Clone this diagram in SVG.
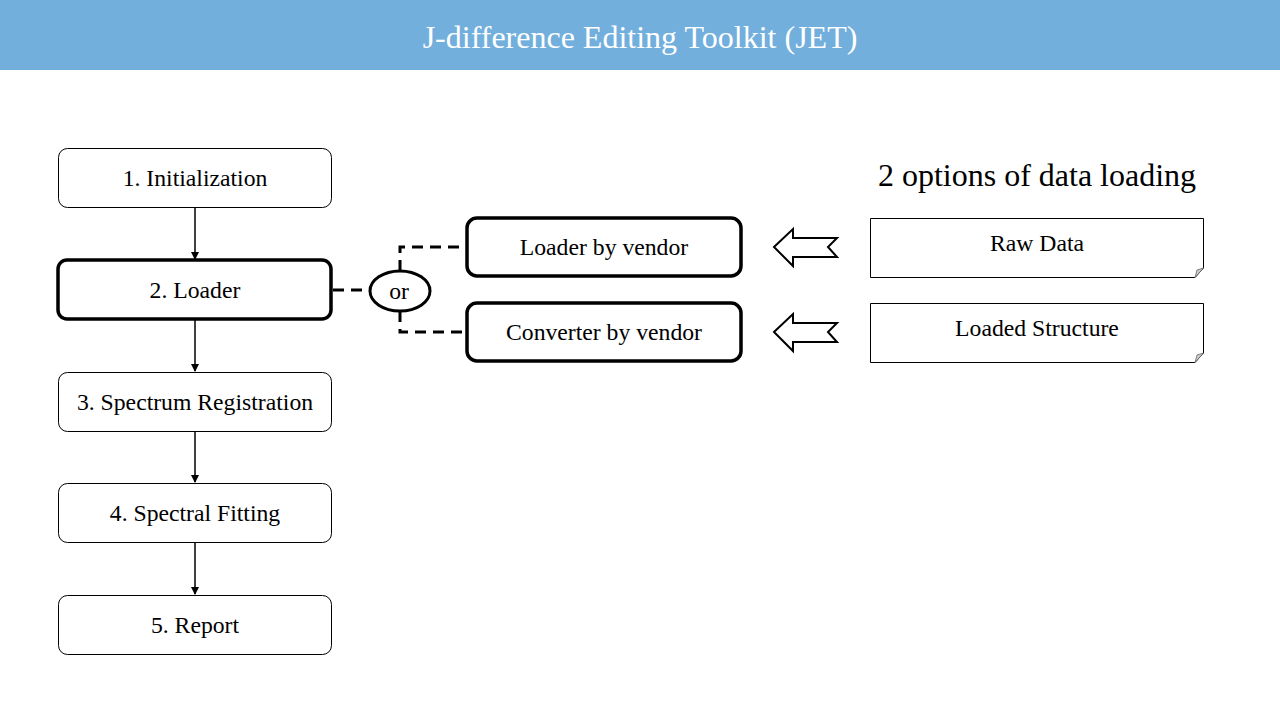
<svg xmlns="http://www.w3.org/2000/svg" width="1280" height="720" viewBox="0 0 1280 720">
<defs>
<style>
text{font-family:"Liberation Serif","Times New Roman",serif;fill:#000;text-anchor:middle;dominant-baseline:central}
.box{fill:#fff;stroke:#000;stroke-width:1}
.bold{fill:#fff;stroke:#000;stroke-width:3.5}
.lbl{font-size:23.7px}
.dash{fill:none;stroke:#000;stroke-width:3;stroke-dasharray:11 7}
.blk{fill:#fff;stroke:#000;stroke-width:2}
</style>
<marker id="ah" markerWidth="8" markerHeight="8" refX="7" refY="4" orient="auto" markerUnits="userSpaceOnUse">
<path d="M0,0 L8,4 L0,8 z" fill="#000"/>
</marker>
</defs>
<rect x="0" y="0" width="1280" height="70" fill="#72AFDD"/>
<text x="640" y="37" style="font-size:32px;fill:#fff">J-difference Editing Toolkit (JET)</text>

<g id="connectors">
<line x1="195" y1="208" x2="195" y2="259" stroke="#000" stroke-width="1.5" marker-end="url(#ah)"/>
<line x1="195" y1="320" x2="195" y2="371" stroke="#000" stroke-width="1.5" marker-end="url(#ah)"/>
<line x1="195" y1="432" x2="195" y2="482" stroke="#000" stroke-width="1.5" marker-end="url(#ah)"/>
<line x1="195" y1="543" x2="195" y2="594" stroke="#000" stroke-width="1.5" marker-end="url(#ah)"/>
<path class="dash" d="M333,290 H370"/>
<path class="dash" d="M400,271 V247 H467"/>
<path class="dash" d="M400,311 V332 H467"/>
</g>

<g id="n1"><rect class="box" x="58.5" y="148.5" width="273" height="59" rx="9"/><text class="lbl" x="195" y="178">1. Initialization</text></g>
<g id="n2"><rect class="bold" x="58" y="260" width="273" height="59" rx="9"/><text class="lbl" x="195" y="290">2. Loader</text></g>
<g id="n3"><rect class="box" x="58.5" y="372.5" width="273" height="59" rx="9"/><text class="lbl" x="195" y="402">3. Spectrum Registration</text></g>
<g id="n4"><rect class="box" x="58.5" y="483.5" width="273" height="59" rx="9"/><text class="lbl" x="195" y="513">4. Spectral Fitting</text></g>
<g id="n5"><rect class="box" x="58.5" y="595.5" width="273" height="59" rx="9"/><text class="lbl" x="195" y="625">5. Report</text></g>

<g id="or"><ellipse cx="400" cy="291" rx="30" ry="20" fill="#fff" stroke="#000" stroke-width="3"/><text class="lbl" x="399" y="291">or</text></g>

<g id="loader"><rect class="bold" x="467" y="218" width="274" height="58" rx="10"/><text class="lbl" x="604" y="247">Loader by vendor</text></g>
<g id="converter"><rect class="bold" x="467" y="303" width="274" height="58" rx="10"/><text class="lbl" x="604" y="332">Converter by vendor</text></g>

<g id="arrow1"><path class="blk" d="M774,247 L793,229 L793,238 L837,238 L828,247 L837,257 L793,257 L793,266 Z"/></g>
<g id="arrow2"><path class="blk" d="M774,332 L793,314 L793,323 L837,323 L828,332 L837,342 L793,342 L793,351 Z"/></g>

<g id="raw">
<path d="M870.5,218.5 H1203.5 V268 L1195,277.5 H870.5 Z" fill="#fff" stroke="#000" stroke-width="1"/>
<path d="M1203.5,268 L1197,270 L1195,277.5 Z" fill="#ccc" stroke="#666" stroke-width="0.8"/>
<text class="lbl" x="1037" y="243">Raw Data</text>
</g>
<g id="loaded">
<path d="M870.5,303.5 H1203.5 V353 L1195,362.5 H870.5 Z" fill="#fff" stroke="#000" stroke-width="1"/>
<path d="M1203.5,353 L1197,355 L1195,362.5 Z" fill="#ccc" stroke="#666" stroke-width="0.8"/>
<text class="lbl" x="1037" y="328">Loaded Structure</text>
</g>

<text x="1037" y="175" style="font-size:32px">2 options of data loading</text>
</svg>
